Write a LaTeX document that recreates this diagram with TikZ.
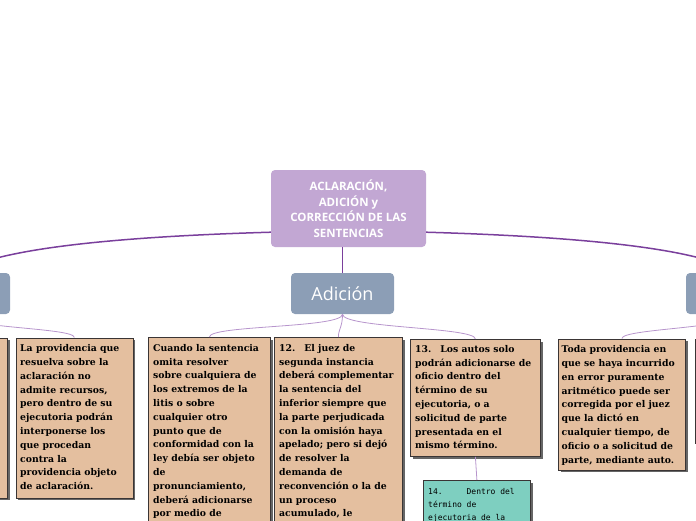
\documentclass[tikz,border=0pt]{standalone}
\usepackage{fontspec}
\usetikzlibrary{shadows}
\newfontfamily\sansf{Open Sans}
\newfontfamily\notef{DejaVu Serif}
\newfontfamily\monof{DejaVu Sans Mono}
\definecolor{rootc}{HTML}{C2A7D3}
\definecolor{catc}{HTML}{8C9EB6}
\definecolor{boxc}{HTML}{E4BF9F}
\definecolor{tealc}{HTML}{7ECFC0}
\definecolor{bordc}{HTML}{3A3535}
\definecolor{mainlc}{HTML}{7A3F9C}
\definecolor{sublc}{HTML}{B795CC}
\begin{document}
\begin{tikzpicture}[x=1pt,y=-1pt,
  rootbox/.style={fill=rootc, rounded corners=4pt, minimum width=155pt, minimum height=77pt, text=white, font=\sansf\bfseries\fontsize{11.5}{15.5}\selectfont, align=center, inner sep=0pt},
  catbox/.style={fill=catc, rounded corners=4pt, minimum width=103pt, minimum height=41pt, text=white, font=\sansf\fontsize{18}{20}\selectfont, inner sep=0pt},
  notebox/.style={draw=bordc, fill=boxc, line width=0.8pt, anchor=north west, inner sep=0pt, drop shadow={shadow xshift=2.5pt, shadow yshift=-2.5pt, opacity=0.6, fill=black}},
  tealbox/.style={notebox, fill=tealc},
  notetext/.style={anchor=north west, inner sep=0pt, align=left, font=\notef\bfseries\fontsize{9.3}{13.8}\selectfont, text=black},
  monotext/.style={anchor=north west, inner sep=0pt, align=left, font=\monof\fontsize{8}{13}\selectfont, text=black},
  mainline/.style={draw=mainlc, line width=1.5pt},
  midline/.style={draw=mainlc, line width=1pt},
  subline/.style={draw=sublc, line width=0.8pt}
]
\useasboundingbox (0,0) rectangle (696,520);
\clip (0,0) rectangle (696,520);

% main nodes
\node[rootbox] (root) at (348.5,208.5) {ACLARACIÓN,\\ADICIÓN y\\CORRECCIÓN DE LAS\\SENTENCIAS};
\node[catbox] (adicion) at (342.5,293.5) {Adición};
\node[catbox] (leftcat) at (-41.5,293.5) {};
\node[catbox] (rightcat) at (737.5,293.5) {};

% note boxes
\node[notebox, minimum width=122pt, minimum height=220pt] (b1) at (148,337) {};
\node[notebox, minimum width=128pt, minimum height=220pt] (b2) at (274,337) {};
\node[notebox, minimum width=130pt, minimum height=117pt] (b3) at (410,339) {};
\node[tealbox, minimum width=107pt, minimum height=80pt] (b4) at (423,480) {};
\node[notebox, minimum width=117pt, minimum height=160pt] (bL) at (15.5,337.5) {};
\node[notebox, minimum width=122pt, minimum height=160pt] (bLL) at (-115,337.5) {};
\node[notebox, minimum width=127pt, minimum height=131pt] (bR) at (558,338.5) {};
\node[notebox, minimum width=125pt, minimum height=104pt] (bRR) at (694.5,338.5) {};

% texts
\node[notetext] (t1) at ([xshift=5pt,yshift=-7pt]b1.north west) {Cuando la sentencia\\omita resolver\\sobre cualquiera de\\los extremos de la\\litis o sobre\\cualquier otro\\punto que de\\conformidad con la\\ley debía ser objeto\\de\\pronunciamiento,\\deberá adicionarse\\por medio de};
\node[notetext] (t2) at ([xshift=5pt,yshift=-7pt]b2.north west) {12.\hspace{9pt}El juez de\\segunda instancia\\deberá complementar\\la sentencia del\\inferior siempre que\\la parte perjudicada\\con la omisión haya\\apelado; pero si dejó\\de resolver la\\demanda de\\reconvención o la de\\un proceso\\acumulado, le};
\node[notetext] (t3) at ([xshift=5pt,yshift=-6pt]b3.north west) {13.\hspace{9pt}Los autos solo\\podrán adicionarse de\\oficio dentro del\\término de su\\ejecutoria, o a\\solicitud de parte\\presentada en el\\mismo término.};
\node[monotext] (t4) at ([xshift=5pt,yshift=-8pt]b4.north west) {14.\hspace{24pt}Dentro del\\término de\\ejecutoria de la};
\node[notetext] (tL) at ([xshift=4.5pt,yshift=-7pt]bL.north west) {La providencia que\\resuelva sobre la\\aclaración no\\admite recursos,\\pero dentro de su\\ejecutoria podrán\\interponerse los\\que procedan\\contra la\\providencia objeto\\de aclaración.};
\node[notetext] (tR) at ([xshift=3.5pt,yshift=-7pt]bR.north west) {Toda providencia en\\que se haya incurrido\\en error puramente\\aritmético puede ser\\corregida por el juez\\que la dictó en\\cualquier tiempo, de\\oficio o a solicitud de\\parte, mediante auto.};

% connectors
\draw[mainline] ([yshift=15pt]root.south west) .. controls (140,236) and (0,246) .. (leftcat.north);
\draw[mainline] ([yshift=15pt]root.south east) .. controls (557,236) and (697,246) .. (rightcat.north);
\draw[midline] (root.south -| adicion.north) .. controls +(-0.5,12) and +(0.5,-12) .. (adicion.north);
\draw[subline] (adicion.south) .. controls +(0,14) and +(0,-12) .. (b1.north);
\draw[subline] (adicion.south) .. controls +(0,13) and +(0,-8) .. (b2.north);
\draw[subline] (adicion.south) .. controls +(0,14) and +(0,-12) .. (b3.north);
\draw[subline] (b3.south) -- (b4.north);
\draw[subline] (leftcat.south) .. controls +(0,14) and +(0,-10) .. (bL.north);
\draw[subline] (leftcat.south) .. controls +(0,12) and +(0,-8) .. (bLL.north);
\draw[subline] (rightcat.south) .. controls +(0,14) and +(0,-10) .. (bR.north);
\draw[subline] (rightcat.south) .. controls +(0,12) and +(0,-8) .. (bRR.north);
\end{tikzpicture}
\end{document}
